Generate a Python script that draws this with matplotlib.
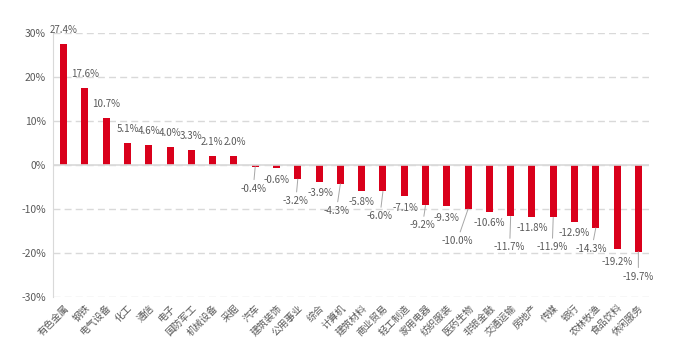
import matplotlib.pyplot as plt
from matplotlib.ticker import FuncFormatter

plt.rcParams['font.family'] = ['Noto Sans CJK SC', 'DejaVu Sans']

# 申万一级行业涨跌幅
industries = ['有色金属', '钢铁', '电气设备', '化工', '通信', '电子', '国防军工',
              '机械设备', '采掘', '汽车', '建筑装饰', '公用事业', '综合', '计算机',
              '建筑材料', '商业贸易', '轻工制造', '家用电器', '纺织服装', '医药生物',
              '非银金融', '交通运输', '房地产', '传媒', '银行', '农林牧渔',
              '食品饮料', '休闲服务']
returns = [27.4, 17.6, 10.7, 5.1, 4.6, 4.0, 3.3, 2.1, 2.0, -0.4, -0.6, -3.2,
           -3.9, -4.3, -5.8, -6.0, -7.1, -9.2, -9.3, -10.0, -10.6, -11.7,
           -11.8, -11.9, -12.9, -14.3, -19.2, -19.7]

# label placement (pixel offsets from bar end) and whether a leader line is drawn
label_dx = [0, 0, 0, 0, 0, 0, 0, -1, 1, -2, 0, -2, 1, -4, 0, -3, 1, -3, 0, -11,
            0, -1, 0, -1, 0, -4, 0, 0]
label_dy = [14, 14, 14, 14, 14, 14, 14, 14, 14, 22, 12, 22, 11, 27, 11, 25, 12,
            20, 12, 32, 11, 31, 11, 30, 11, 21, 13, 25]
leader = [False] * 9 + [True, False, True, False, True, False, True, False,
                        True, False, True, False, True, False, True, False,
                        True, False, True]

RED = '#D9001B'
GRAY = '#595959'
GRID = '#D9D9D9'

fig = plt.figure(figsize=(7, 3.6), dpi=100)
ax = fig.add_axes([53 / 700, 63 / 360, 596 / 700, 264 / 360])

x = range(len(industries))
ax.bar(x, returns, width=0.33, color=RED, zorder=3)

ax.set_xlim(-0.5, len(industries) - 0.5)
ax.set_ylim(-30, 30)
ax.set_yticks([-30, -20, -10, 0, 10, 20, 30])
ax.yaxis.set_major_formatter(FuncFormatter(lambda v, p: f'{v:.0f}%'))
ax.grid(axis='y', color=GRID, linestyle=(0, (5, 3)), linewidth=1, zorder=0)
ax.axhline(0, color=GRID, linewidth=1.2, zorder=4)

for s in ['top', 'right', 'bottom']:
    ax.spines[s].set_visible(False)
ax.spines['left'].set_color(GRID)

ax.tick_params(axis='y', length=0, labelsize=7.5, labelcolor=GRAY, pad=5)
ax.tick_params(axis='x', length=0, labelsize=7, labelcolor=GRAY, pad=4)
ax.set_xticks(list(x))
ax.set_xticklabels(industries, rotation=45, ha='right', rotation_mode='anchor')

for i, v in enumerate(returns):
    dy = label_dy[i] if v > 0 else -label_dy[i]
    props = None
    if leader[i]:
        props = dict(arrowstyle='-', color='#A6A6A6', lw=0.7, shrinkA=1, shrinkB=0)
    ax.annotate(f'{v:.1f}%', xy=(i, v), xytext=(label_dx[i], dy),
                textcoords='offset pixels', ha='center', va='center',
                fontsize=7, color=GRAY, arrowprops=props, zorder=5)

fig.savefig('out.png', dpi=100)
